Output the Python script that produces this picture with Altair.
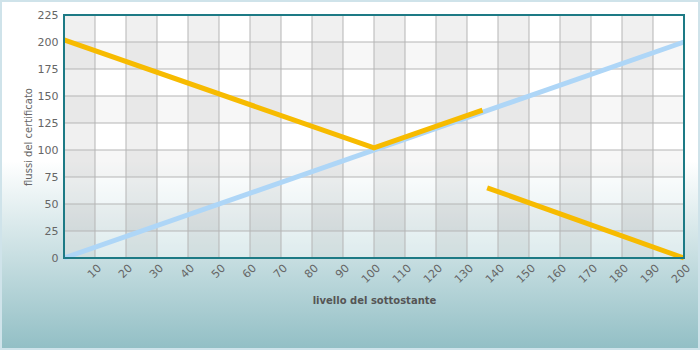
import altair as alt
import pandas as pd

# ---- data ----
x_ticks = list(range(10, 210, 10))
y_ticks = list(range(0, 250, 25))

blue_x = [0, 200]
blue_y = [0, 200]
orange1_x = [0, 100, 135]
orange1_y = [202, 102, 137]
orange2_x = [136.5, 200]
orange2_y = [65, 0]

col_band_starts = list(range(0, 200, 20))
row_band_starts = [25, 75, 125, 175]

W, H = 620, 243

xs = alt.Scale(domain=[0, 200], nice=False, zero=False)
ys = alt.Scale(domain=[0, 225], nice=False, zero=False)

x_axis = alt.Axis(values=x_ticks, labelAngle=-45, title="livello del sottostante",
                  titleFontWeight="bold", titleFontSize=10, titleColor="#555555",
                  titleY=42, titleBaseline="middle", labelPadding=4, zindex=2)
y_axis = alt.Axis(values=y_ticks, title="flussi del certificato", titleFontWeight="normal",
                  titleFontSize=10, titleColor="#666666", titleX=-36,
                  titleBaseline="middle", labelPadding=6, zindex=2)


def X(f):
    return alt.X(f, type="quantitative", scale=xs, axis=x_axis)


def Y(f):
    return alt.Y(f, type="quantitative", scale=ys, axis=y_axis)


def X2(f):
    return alt.X2(f)


def Y2(f):
    return alt.Y2(f)


grad = alt.Gradient(
    gradient="linear",
    stops=[alt.GradientStop(color="#ffffff", offset=0),
           alt.GradientStop(color="#ffffff", offset=0.46),
           alt.GradientStop(color="#92bfc5", offset=1)],
    x1=0, y1=0, x2=0, y2=1,
)

bg = alt.Chart(pd.DataFrame({"a": [0]})).mark_rect(
    fill=grad, stroke="#cfe3ea", strokeWidth=2
).encode(x=alt.value(-63), x2=alt.value(635), y=alt.value(-14), y2=alt.value(334))

area_df = pd.DataFrame({"x0": [0], "x1": [200], "y0": [0], "y1": [225]})
plot_bg = alt.Chart(area_df).mark_rect(fill="white", opacity=0.4).encode(
    x=X("x0"), x2=X2("x1"), y=Y("y0"), y2=Y2("y1"))

cols_df = pd.DataFrame({"x0": col_band_starts,
                        "x1": [v + 10 for v in col_band_starts],
                        "y0": [0] * len(col_band_starts),
                        "y1": [225] * len(col_band_starts)})
cols = alt.Chart(cols_df).mark_rect(fill="black", opacity=0.06).encode(
    x=X("x0"), x2=X2("x1"), y=Y("y0"), y2=Y2("y1"))

rows_df = pd.DataFrame({"x0": [0] * len(row_band_starts),
                        "x1": [200] * len(row_band_starts),
                        "y0": row_band_starts,
                        "y1": [v + 25 for v in row_band_starts]})
rows = alt.Chart(rows_df).mark_rect(fill="black", opacity=0.03).encode(
    x=X("x0"), x2=X2("x1"), y=Y("y0"), y2=Y2("y1"))

vgrid = alt.Chart(pd.DataFrame({"g": x_ticks[:-1]})).mark_rule(
    color="#b5b5b5", strokeWidth=1).encode(x=X("g"))
hgrid = alt.Chart(pd.DataFrame({"g": y_ticks[1:-1]})).mark_rule(
    color="#b5b5b5", strokeWidth=1).encode(y=Y("g"))

lines = []
for i, (xx, yy) in enumerate(zip(blue_x, blue_y)):
    lines.append({"x": xx, "y": yy, "s": "blue", "seg": "b", "o": i})
for i, (xx, yy) in enumerate(zip(orange1_x, orange1_y)):
    lines.append({"x": xx, "y": yy, "s": "orange", "seg": "o1", "o": i})
for i, (xx, yy) in enumerate(zip(orange2_x, orange2_y)):
    lines.append({"x": xx, "y": yy, "s": "orange", "seg": "o2", "o": i})
lines_df = pd.DataFrame(lines)

line_layer = alt.Chart(lines_df).mark_line(strokeWidth=5).encode(
    x=X("x"), y=Y("y"),
    color=alt.Color("s:N", scale=alt.Scale(domain=["blue", "orange"],
                                           range=["#aed6f7", "#f7bb00"]), legend=None),
    detail="seg:N", order="o:Q")

border = alt.Chart(area_df).mark_rect(fill=None, stroke="#1d7a85", strokeWidth=2).encode(
    x=X("x0"), x2=X2("x1"), y=Y("y0"), y2=Y2("y1"))

chart = alt.layer(bg, plot_bg, cols, rows, vgrid, hgrid, line_layer, border).properties(
    width=W, height=H,
    autosize=alt.AutoSizeParams(type="none"),
    padding={"left": 64, "top": 15, "right": 16, "bottom": 92},
    background="white",
).configure_view(stroke=None).configure_axis(
    domain=False, ticks=False, grid=False,
    labelColor="#666666", labelFont="DejaVu Sans", labelFontSize=11,
    titleFont="DejaVu Sans",
)

chart.save("out.html", embed_options={"renderer": "svg", "actions": False})
